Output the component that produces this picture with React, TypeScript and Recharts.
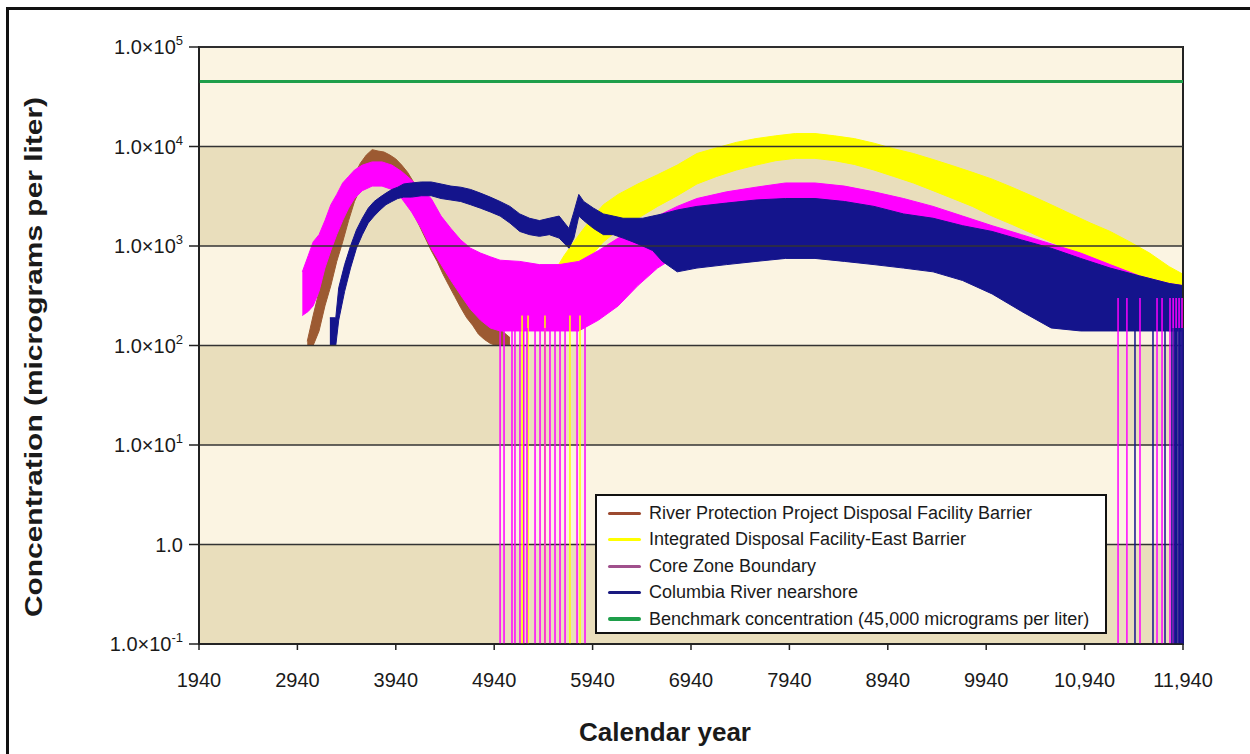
import {
  ComposedChart,
  Area,
  Line,
  XAxis,
  YAxis,
  ReferenceArea,
  ReferenceLine,
  Legend,
  Label,
} from "recharts";

// axis ticks
const xTicks = [1940, 2940, 3940, 4940, 5940, 6940, 7940, 8940, 9940, 10940, 11940];
const xTickLabels = ["1940", "2940", "3940", "4940", "5940", "6940", "7940", "8940", "9940", "10,940", "11,940"];
const yTicks = [0.1, 1, 10, 100, 1000, 10000, 100000];

// River Protection Project Disposal Facility Barrier (noise envelope, low / high)
const brownYears = [3040, 3100, 3160, 3220, 3280, 3340, 3400, 3460, 3520, 3580, 3640, 3700, 3760, 3820, 3880, 3940, 4000, 4060, 4120, 4180, 4240, 4300, 4360, 4420, 4480, 4540, 4600, 4660, 4720, 4780, 4840, 4900, 4960, 5020, 5100];
const brownLow = [100, 100, 140, 250, 400, 700, 1100, 1800, 2800, 3800, 4800, 5300, 5500, 5300, 4800, 4200, 3500, 2800, 2100, 1600, 1200, 900, 700, 520, 400, 310, 240, 190, 160, 130, 115, 105, 100, 100, 100];
const brownHigh = [110, 200, 350, 600, 1000, 1600, 2600, 3800, 5200, 6800, 8200, 9300, 9000, 8800, 8200, 7500, 6500, 5500, 4400, 3400, 2700, 2000, 1500, 1100, 850, 650, 500, 400, 330, 270, 230, 190, 160, 140, 120];

// Integrated Disposal Facility-East Barrier
const yellowYears = [5350, 5450, 5550, 5650, 5750, 5850, 5950, 6050, 6200, 6400, 6600, 6800, 7000, 7200, 7400, 7600, 7800, 8000, 8200, 8400, 8600, 8800, 9000, 9200, 9400, 9600, 9800, 10000, 10200, 10400, 10600, 10800, 11000, 11200, 11400, 11600, 11800, 11940];
const yellowLow = [140, 180, 250, 350, 480, 650, 850, 1100, 1450, 1900, 2500, 3200, 4200, 5000, 5800, 6500, 7200, 7600, 7600, 7200, 6600, 5800, 5000, 4300, 3600, 3000, 2500, 2000, 1650, 1350, 1100, 900, 750, 620, 500, 400, 320, 280];
const yellowHigh = [250, 380, 550, 800, 1100, 1500, 2000, 2600, 3300, 4200, 5200, 6500, 8500, 9700, 11000, 12000, 12800, 13500, 13500, 12800, 12000, 10800, 9500, 8500, 7400, 6400, 5500, 4700, 3900, 3200, 2600, 2100, 1700, 1400, 1100, 850, 620, 520];

// Core Zone Boundary
const magentaYears = [2990, 3050, 3100, 3160, 3220, 3280, 3340, 3400, 3460, 3520, 3600, 3700, 3800, 3900, 4000, 4100, 4200, 4300, 4400, 4500, 4600, 4700, 4800, 4900, 5000, 5200, 5400, 5600, 5800, 6000, 6200, 6400, 6600, 6800, 7000, 7300, 7600, 7900, 8200, 8500, 8800, 9100, 9400, 9700, 10000, 10300, 10600, 10900, 11200, 11500, 11800, 11940];
const magentaLow = [200, 220, 250, 350, 600, 900, 1300, 1800, 2400, 3000, 3600, 4000, 4000, 3700, 3000, 2200, 1500, 950, 650, 450, 320, 230, 180, 150, 140, 140, 140, 140, 140, 180, 250, 400, 600, 800, 1000, 1200, 1300, 1400, 1400, 1300, 1200, 1000, 850, 700, 550, 420, 320, 250, 200, 160, 140, 140];
const magentaHigh = [550, 800, 1100, 1300, 1800, 2600, 3300, 4300, 5000, 5800, 6500, 7000, 7000, 6500, 5600, 4600, 3700, 3000, 2000, 1500, 1150, 950, 850, 780, 720, 700, 650, 650, 700, 900, 1200, 1600, 2000, 2500, 3000, 3500, 3900, 4300, 4300, 4000, 3500, 3000, 2500, 2000, 1600, 1300, 1050, 850, 650, 500, 420, 400];

// Columbia River nearshore
const navyYears = [3270, 3330, 3360, 3420, 3480, 3540, 3600, 3660, 3720, 3780, 3840, 3900, 3960, 4020, 4100, 4200, 4300, 4400, 4500, 4600, 4700, 4800, 4900, 5000, 5100, 5200, 5300, 5400, 5500, 5600, 5700, 5750, 5800, 5850, 5950, 6050, 6150, 6250, 6350, 6450, 6550, 6650, 6800, 7000, 7300, 7600, 7900, 8200, 8500, 8800, 9100, 9400, 9700, 10000, 10300, 10600, 10900, 11200, 11500, 11800, 11940];
const navyLow = [100, 100, 180, 350, 600, 950, 1300, 1700, 2000, 2300, 2600, 2800, 3000, 3100, 3100, 3200, 3200, 3000, 2900, 2800, 2600, 2400, 2200, 2000, 1700, 1400, 1300, 1250, 1300, 1200, 950, 1200, 2000, 1800, 1500, 1300, 1300, 1200, 1100, 1000, 900, 700, 550, 600, 650, 700, 750, 750, 700, 650, 600, 550, 450, 330, 220, 150, 140, 140, 140, 140, 140];
const navyHigh = [190, 190, 380, 650, 1000, 1450, 1900, 2400, 2800, 3100, 3400, 3700, 3900, 4200, 4300, 4400, 4400, 4200, 4000, 3900, 3700, 3400, 3100, 2800, 2500, 2100, 1900, 1800, 1900, 2000, 1500, 2200, 3300, 2800, 2400, 2100, 2000, 1900, 1900, 1900, 2000, 2100, 2300, 2500, 2700, 2900, 3000, 3000, 2800, 2500, 2100, 1900, 1600, 1400, 1150, 950, 750, 600, 500, 420, 400];

// drops to the bottom of the axis (year, level it falls from)
const magentaDropYears = [5000, 5040, 5121, 5151, 5202, 5240, 5273, 5355, 5406, 5456, 5507, 5558, 5609, 5660, 5782, 5863, 11280, 11370, 11503, 11676, 11727, 11808, 11840, 11870, 11900, 11930];
const magentaDropFrom = [150, 150, 150, 150, 150, 150, 150, 150, 150, 150, 150, 150, 150, 150, 200, 250, 300, 300, 300, 300, 300, 300, 300, 300, 300, 300];
const yellowDropYears = [5223, 5284, 5456, 5710, 5812];
const yellowDropFrom = [200, 200, 200, 200, 200];
const navyDropYears = [11452, 11635, 11757, 11827, 11850, 11862, 11875, 11890, 11905, 11918, 11930, 11940];
const navyDropFrom = [150, 150, 150, 150, 150, 150, 150, 150, 150, 150, 150, 150];

// benchmark
const benchmarkYears = [1940, 11940];
const benchmarkValues = [45000, 45000];

const legendNames = [
  "River Protection Project Disposal Facility Barrier",
  "Integrated Disposal Facility-East Barrier",
  "Core Zone Boundary",
  "Columbia River nearshore",
  "Benchmark concentration (45,000 micrograms per liter)",
];

const BROWN = "#9C5A32";
const YELLOW = "#FFFF00";
const MAGENTA = "#FF00FF";
const NAVY = "#14148C";
const GREEN = "#1E9E4A";
const legendColors = ["#9C4A30", "#FFFF00", "#A0508C", "#1A1A80", "#1E9E4A"];

const FONT = "'Liberation Sans', Arial, sans-serif";
const INK = "#1a1a1a";
const LIGHT = "#FBF4E2";
const DARK = "#E9DEBC";

const rows = (years: number[], lo: number[], hi: number[]) =>
  years.map((year, i) => ({ year, lo: lo[i], hi: hi[i] }));

const brownData = rows(brownYears, brownLow, brownHigh);
const yellowData = rows(yellowYears, yellowLow, yellowHigh);
const magentaData = rows(magentaYears, magentaLow, magentaHigh);
const navyData = rows(navyYears, navyLow, navyHigh);
const benchmarkData = benchmarkYears.map((year, i) => ({ year, value: benchmarkValues[i] }));

function YTick({ x, y, payload }: any) {
  const exp = Math.round(Math.log10(payload.value));
  return (
    <text x={x} y={y} dy={7} textAnchor="end" fontSize={20} fill={INK} fontFamily={FONT}>
      {exp === 0 ? (
        "1.0"
      ) : (
        <>
          1.0×10
          <tspan dy={-9} fontSize={13}>
            {exp}
          </tspan>
        </>
      )}
    </text>
  );
}

function XTick({ x, y, payload }: any) {
  const i = xTicks.indexOf(payload.value);
  return (
    <text x={x} y={y} dy={29} textAnchor="middle" fontSize={20} fill={INK} fontFamily={FONT}>
      {xTickLabels[i]}
    </text>
  );
}

function LegendBox() {
  return (
    <div
      style={{
        width: 512,
        height: 140,
        border: "2px solid #111",
        background: "#fff",
        fontFamily: FONT,
        fontSize: 18,
        color: INK,
        boxSizing: "border-box",
        paddingTop: 4,
        whiteSpace: "nowrap",
      }}
    >
      {legendNames.map((name, i) => (
        <div key={name} style={{ display: "flex", alignItems: "center", height: 26.5 }}>
          <span
            style={{
              display: "inline-block",
              width: 33,
              height: i === 4 ? 4 : 3,
              borderRadius: 2,
              background: legendColors[i],
              marginLeft: 11,
              marginRight: 8,
            }}
          />
          <span>{name}</span>
        </div>
      ))}
    </div>
  );
}

const bands = yTicks.slice(0, -1).map((lo, i) => ({ lo, hi: yTicks[i + 1] }));

export default function App() {
  return (
    <div style={{ position: "absolute", left: 0, top: 0, width: 1250, height: 754, background: "#fff" }}>
      <div
        style={{
          position: "absolute",
          left: 6,
          top: 7,
          width: 1244,
          height: 747,
          borderLeft: "3px solid #111",
          borderTop: "3px solid #111",
          boxSizing: "border-box",
        }}
      />
      <ComposedChart
        width={1250}
        height={754}
        margin={{ top: 47, right: 67, bottom: 0, left: 0 }}
        style={{ position: "absolute", left: 0, top: 0 }}
      >
        <XAxis
          type="number"
          dataKey="year"
          domain={[1940, 11940]}
          ticks={xTicks}
          allowDataOverflow
          height={110}
          tick={<XTick />}
          tickSize={6}
          tickMargin={8}
          stroke="#222"
          strokeWidth={1.5}
        >
          <Label
            content={() => (
              <text
                x={665}
                y={741}
                textAnchor="middle"
                fontSize={26}
                fontWeight="bold"
                fill={INK}
                fontFamily={FONT}
              >
                Calendar year
              </text>
            )}
          />
        </XAxis>
        <YAxis
          scale="log"
          domain={[0.1, 100000]}
          ticks={yTicks}
          allowDataOverflow
          width={199}
          tick={<YTick />}
          tickSize={10}
          tickMargin={6}
          stroke="#222"
          strokeWidth={1.5}
        >
          <Label
            content={() => (
              <text
                x={33}
                y={357}
                transform="rotate(-90 33 357)"
                textAnchor="middle"
                dominantBaseline="central"
                fontSize={24}
                fontWeight="bold"
                fill={INK}
                fontFamily={FONT}
                textLength={520}
                lengthAdjust="spacingAndGlyphs"
              >
                Concentration (micrograms per liter)
              </text>
            )}
          />
        </YAxis>

        {bands.map((b, i) => (
          <ReferenceArea
            key={b.lo}
            x1={1940}
            x2={11940}
            y1={b.lo}
            y2={b.hi}
            fill={i % 2 === 0 ? DARK : LIGHT}
            fillOpacity={1}
            stroke="none"
          />
        ))}
        {yTicks.map((t) => (
          <ReferenceLine key={t} y={t} stroke="#333" strokeWidth={1.5} />
        ))}

        <Area
          data={brownData}
          dataKey={(d: any) => [d.lo, d.hi]}
          type="linear"
          stroke={BROWN}
          strokeWidth={1}
          fill={BROWN}
          fillOpacity={1}
          isAnimationActive={false}
        />
        <Area
          data={yellowData}
          dataKey={(d: any) => [d.lo, d.hi]}
          type="linear"
          stroke={YELLOW}
          strokeWidth={1}
          fill={YELLOW}
          fillOpacity={1}
          isAnimationActive={false}
        />
        <Area
          data={magentaData}
          dataKey={(d: any) => [d.lo, d.hi]}
          type="linear"
          stroke={MAGENTA}
          strokeWidth={1}
          fill={MAGENTA}
          fillOpacity={1}
          isAnimationActive={false}
        />
        <Area
          data={navyData}
          dataKey={(d: any) => [d.lo, d.hi]}
          type="linear"
          stroke={NAVY}
          strokeWidth={1}
          fill={NAVY}
          fillOpacity={1}
          isAnimationActive={false}
        />

        {yellowDropYears.map((yr, i) => (
          <ReferenceLine
            key={"y" + yr}
            segment={[{ x: yr, y: 0.1 }, { x: yr, y: yellowDropFrom[i] }]}
            stroke={YELLOW}
            strokeWidth={1.5}
          />
        ))}
        {magentaDropYears.map((yr, i) => (
          <ReferenceLine
            key={"m" + yr}
            segment={[{ x: yr, y: 0.1 }, { x: yr, y: magentaDropFrom[i] }]}
            stroke={MAGENTA}
            strokeWidth={1.5}
          />
        ))}
        {navyDropYears.map((yr, i) => (
          <ReferenceLine
            key={"n" + yr}
            segment={[{ x: yr, y: 0.1 }, { x: yr, y: navyDropFrom[i] }]}
            stroke={NAVY}
            strokeWidth={1.5}
          />
        ))}

        <Line
          data={benchmarkData}
          dataKey="value"
          stroke={GREEN}
          strokeWidth={3}
          dot={false}
          isAnimationActive={false}
        />

        <ReferenceArea x1={1940} x2={11940} y1={0.1} y2={100000} fill="none" stroke="#222" strokeWidth={2} />

        <Legend
          content={() => <LegendBox />}
          layout="horizontal"
          verticalAlign="middle"
          align="center"
          wrapperStyle={{ position: "absolute", left: 595, top: 494, width: 512, height: 140 }}
        />
      </ComposedChart>
    </div>
  );
}
